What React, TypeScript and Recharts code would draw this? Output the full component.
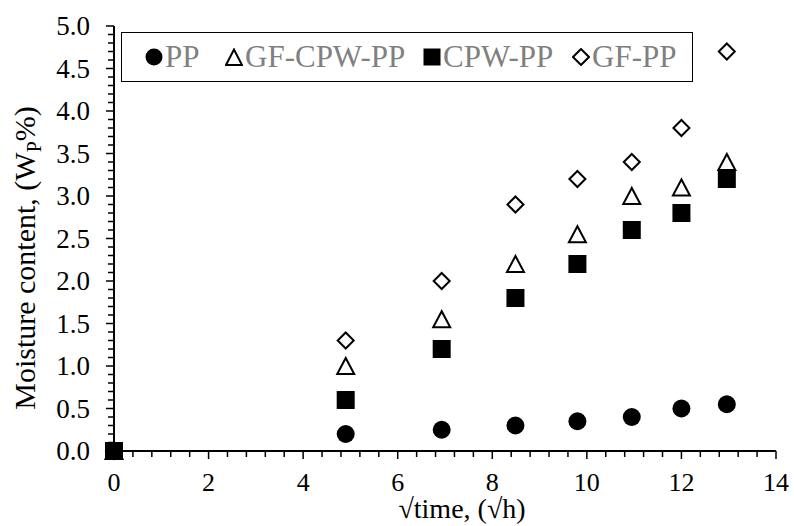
import React from "react"
import { ScatterChart, Scatter, XAxis, YAxis } from "recharts"

document.body.style.margin = "0"

// sqrt(time) in sqrt(h): 0, 24, 48, 72, 96, 120, 144, 168 h
const sqrtTime = [0, 4.9, 6.93, 8.49, 9.8, 10.95, 12, 12.96]
const pp = [0, 0.2, 0.25, 0.3, 0.35, 0.4, 0.5, 0.55]
const gfCpwPp = [0, 1.0, 1.55, 2.2, 2.55, 3.0, 3.1, 3.4]
const cpwPp = [0, 0.6, 1.2, 1.8, 2.2, 2.6, 2.8, 3.2]
const gfPp = [0, 1.3, 2.0, 2.9, 3.2, 3.4, 3.8, 4.7]

const xTicks = Array.from({ length: 36 }, (_, i) => Math.round(i * 4) / 10) // every 0.4
const yTicks = Array.from({ length: 51 }, (_, i) => i / 10)

const FONT = "Liberation Serif"
const serif = { fontFamily: FONT }

const toPoints = (ys: number[]) => sqrtTime.map((x, i) => ({ x, y: ys[i] }))

const Circle = (p: any) => <circle cx={p.cx} cy={p.cy} r={9} fill="#000" />
const Square = (p: any) => <rect x={p.cx - 9} y={p.cy - 9} width={18} height={18} fill="#000" />
const Triangle = (p: any) => (
    <polygon
        points={`${p.cx},${p.cy - 8} ${p.cx - 8.5},${p.cy + 8} ${p.cx + 8.5},${p.cy + 8}`}
        fill="none" stroke="#000" strokeWidth={2}
    />
)
const Diamond = (p: any) => (
    <polygon
        points={`${p.cx},${p.cy - 8} ${p.cx + 8},${p.cy} ${p.cx},${p.cy + 8} ${p.cx - 8},${p.cy}`}
        fill="none" stroke="#000" strokeWidth={2}
    />
)

const XTick = (props: any) => {
    const { x, y, payload } = props
    const v = payload.value
    const major = Math.abs(v / 2 - Math.round(v / 2)) < 1e-6
    return (
        <g>
            <line x1={x} y1={y} x2={x} y2={y + (major ? 8 : 6)} stroke="#000" strokeWidth={1.5} />
            {major && (
                <text x={x} y={y + 40} textAnchor="middle" fontSize={26} style={serif} fill="#000">
                    {Math.round(v)}
                </text>
            )}
        </g>
    )
}

const YTick = (props: any) => {
    const { x, y, payload } = props
    const v = payload.value
    const major = Math.round(v * 10) % 5 === 0
    return (
        <g>
            <line x1={x} y1={y} x2={x - (major ? 8 : 6)} y2={y} stroke="#000" strokeWidth={1.5} />
            {major && (
                <text x={x - 24} y={y + 9} textAnchor="end" fontSize={27} style={serif} fill="#000">
                    {v.toFixed(1)}
                </text>
            )}
        </g>
    )
}

const legendItems = [
    { name: "PP", left: 145, marker: <circle cx={9} cy={9} r={8.5} fill="#000" /> },
    { name: "GF-CPW-PP", left: 225, marker: <polygon points="9,1.5 1,17 17,17" fill="none" stroke="#000" strokeWidth={2} /> },
    { name: "CPW-PP", left: 423, marker: <rect x={0.5} y={0.5} width={17} height={17} fill="#000" /> },
    { name: "GF-PP", left: 572, marker: <polygon points="9,1 17,9 9,17 1,9" fill="none" stroke="#000" strokeWidth={2} /> },
]

export default function App() {
    return (
        <div style={{ position: "relative", width: 794, height: 526, background: "#fff" }}>
            <ScatterChart width={794} height={526} margin={{ top: 26, right: 18, bottom: 0, left: 0 }}>
                <XAxis
                    xAxisId="main" dataKey="x" type="number" domain={[0, 14]} ticks={xTicks} interval={0}
                    height={75} tickSize={0} tickMargin={0} tick={<XTick />}
                    axisLine={{ stroke: "#000", strokeWidth: 2 }} tickLine={false}
                    label={{
                        content: () => (
                            <text x={462} y={518} textAnchor="middle" fontSize={28} style={serif} fill="#000">
                                √time, (√h)
                            </text>
                        ),
                    }}
                />
                <XAxis
                    xAxisId="top" type="number" orientation="top" domain={[0, 14]} height={0}
                    tick={false} tickLine={false} axisLine={{ stroke: "#000", strokeWidth: 2 }}
                />
                <YAxis
                    yAxisId="main" dataKey="y" type="number" domain={[0, 5]} ticks={yTicks} interval={0}
                    width={114} tickSize={0} tickMargin={0} tick={<YTick />}
                    axisLine={{ stroke: "#000", strokeWidth: 2 }} tickLine={false}
                    label={{
                        content: () => (
                            <text
                                transform="translate(35, 258) rotate(-90)" textAnchor="middle"
                                fontSize={30} style={serif} fill="#000"
                            >
                                Moisture content, (W
                                <tspan fontSize={20} dy={6}>P</tspan>
                                <tspan dy={-6}>%)</tspan>
                            </text>
                        ),
                    }}
                />
                <YAxis
                    yAxisId="right" type="number" orientation="right" domain={[0, 5]} width={0}
                    tick={false} tickLine={false} axisLine={{ stroke: "#000", strokeWidth: 2 }}
                />
                <Scatter name="PP" data={toPoints(pp)} xAxisId="main" yAxisId="main" shape={Circle} isAnimationActive={false} />
                <Scatter name="GF-CPW-PP" data={toPoints(gfCpwPp)} xAxisId="main" yAxisId="main" shape={Triangle} isAnimationActive={false} />
                <Scatter name="GF-PP" data={toPoints(gfPp)} xAxisId="main" yAxisId="main" shape={Diamond} isAnimationActive={false} />
                <Scatter name="CPW-PP" data={toPoints(cpwPp)} xAxisId="main" yAxisId="main" shape={Square} isAnimationActive={false} />
            </ScatterChart>
            <div
                style={{
                    position: "absolute", left: 121, top: 32, width: 572, height: 50, boxSizing: "border-box",
                    border: "1.5px solid #000", background: "#fff",
                }}
            />
            {legendItems.map((it) => (
                <div
                    key={it.name}
                    style={{
                        position: "absolute", left: it.left, top: 32, height: 50, display: "flex", alignItems: "center",
                        fontFamily: FONT, fontSize: 31, color: "#808080", whiteSpace: "nowrap",
                    }}
                >
                    <svg width={18} height={18} style={{ marginRight: 2 }}>{it.marker}</svg>
                    <span>{it.name}</span>
                </div>
            ))}
        </div>
    )
}
